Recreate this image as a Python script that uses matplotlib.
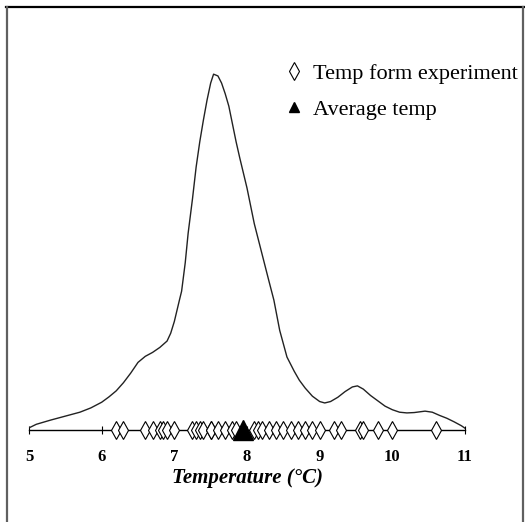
import numpy as np
import matplotlib
matplotlib.use("Agg")
import matplotlib.pyplot as plt
from matplotlib.lines import Line2D

plt.rcParams['font.family'] = ['Liberation Serif', 'DejaVu Serif']

# density curve
curve_x = [5.00, 5.10, 5.30, 5.50, 5.70, 5.85, 6.00, 6.10, 6.20, 6.30, 6.40, 6.50,
           6.60, 6.70, 6.80, 6.90, 6.95, 7.00, 7.07, 7.10, 7.15, 7.19, 7.25, 7.30,
           7.35, 7.40, 7.45, 7.50, 7.54, 7.60, 7.65, 7.70, 7.75, 7.80, 7.85, 7.90,
           8.00, 8.10, 8.20, 8.30, 8.37, 8.45, 8.55, 8.65, 8.72, 8.80, 8.90, 9.00,
           9.07, 9.15, 9.25, 9.35, 9.45, 9.52, 9.60, 9.70, 9.80, 9.90, 10.00, 10.10,
           10.20, 10.30, 10.45, 10.55, 10.65, 10.75, 10.85, 10.95, 11.00]
curve_y = [0.006, 0.016, 0.028, 0.039, 0.050, 0.062, 0.078, 0.093, 0.110, 0.133, 0.160, 0.190,
           0.207, 0.218, 0.232, 0.250, 0.272, 0.305, 0.365, 0.390, 0.470, 0.553, 0.650, 0.739,
           0.810, 0.871, 0.927, 0.975, 1.000, 0.995, 0.975, 0.945, 0.910, 0.860, 0.810, 0.765,
           0.680, 0.580, 0.500, 0.420, 0.365, 0.280, 0.205, 0.165, 0.140, 0.118, 0.095, 0.080,
           0.076, 0.080, 0.092, 0.108, 0.121, 0.124, 0.115, 0.097, 0.082, 0.067, 0.057, 0.050,
           0.048, 0.049, 0.053, 0.050, 0.041, 0.033, 0.023, 0.012, 0.005]

# experimental temperatures
temps = [6.2, 6.3, 6.6, 6.7, 6.8, 6.85, 6.9, 7.0, 7.25, 7.3, 7.35, 7.4, 7.5, 7.5,
         7.6, 7.7, 7.8, 7.85, 8.1, 8.15, 8.2, 8.3, 8.4, 8.5, 8.6, 8.7, 8.8, 8.9,
         9.0, 9.2, 9.3, 9.55, 9.6, 9.8, 10.0, 10.6]
avg_temp = 7.94

xticks = [5, 6, 7, 8, 9, 10, 11]

fig = plt.figure(figsize=(5.25, 5.22), dpi=100)
ax = fig.add_axes([29/525, 92/522, 436/525, 427/522])

ax.plot(curve_x, curve_y, color='#222222', lw=1.0)
ax.plot(temps, np.zeros(len(temps)), linestyle='none', marker='d', ms=9,
        mfc='white', mec='black', mew=0.8, clip_on=False, zorder=3)
ax.plot([avg_temp], [0], linestyle='none', marker='^', ms=15, color='black',
        clip_on=False, zorder=4)

ax.set_xlim(5, 11)
ax.set_ylim(0, 1.2)
ax.set_yticks([])
for s in ['top', 'right', 'left']:
    ax.spines[s].set_visible(False)
ax.spines['bottom'].set_linewidth(1.0)
ax.set_xticks(xticks)
ax.set_xticklabels([str(t) for t in xticks], fontweight='bold', fontsize=12)
ax.tick_params(axis='x', direction='inout', length=6, width=0.8, pad=11)
ax.set_xlabel('Temperature (°C)', fontsize=15, fontweight='bold', style='italic', labelpad=2)

handles = [Line2D([], [], linestyle='none', marker='d', ms=9, mfc='white', mec='black', mew=0.8),
           Line2D([], [], linestyle='none', marker='^', ms=7, color='black')]
ax.legend(handles, ['Temp form experiment', 'Average temp'], loc='upper left',
          bbox_to_anchor=(0.57, 0.88), frameon=False, fontsize=16,
          handlelength=0.7, handletextpad=0.5, labelspacing=0.7, borderaxespad=0)

# outer frame
fig.add_artist(Line2D([6/525, 524/525], [1 - 7/522, 1 - 7/522], transform=fig.transFigure,
                      color='black', lw=1.6, zorder=10))
fig.add_artist(Line2D([7/525, 7/525], [0, 1 - 7/522], transform=fig.transFigure,
                      color='#606060', lw=1.6, zorder=10))
fig.add_artist(Line2D([522.5/525, 522.5/525], [0, 1 - 7/522], transform=fig.transFigure,
                      color='#606060', lw=1.6, zorder=10))

fig.savefig('out.png', dpi=100)
